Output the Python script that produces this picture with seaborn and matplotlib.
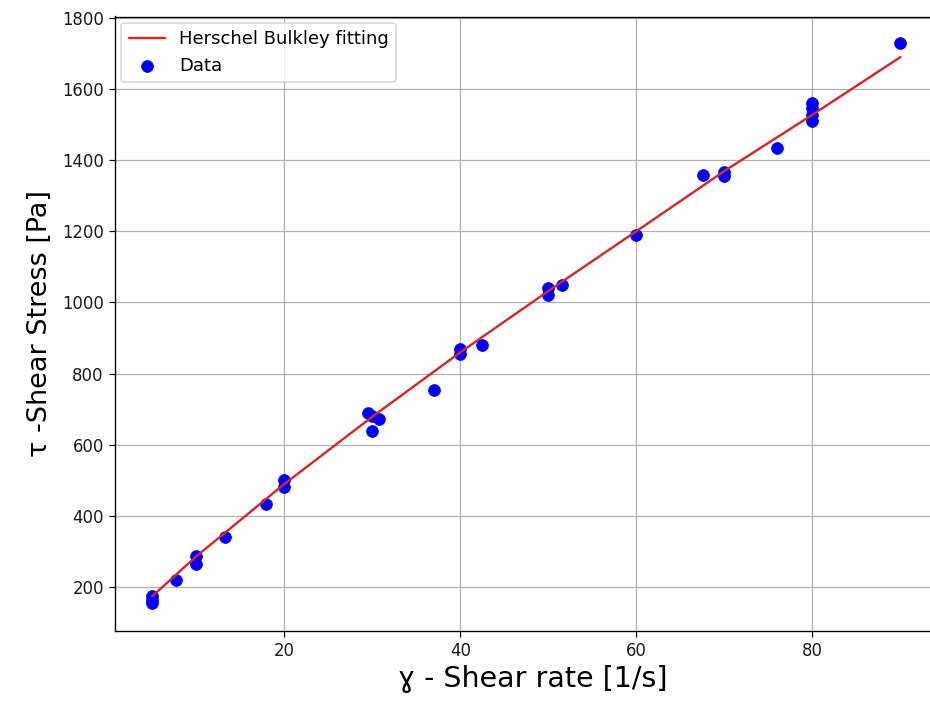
import matplotlib
matplotlib.use("Agg")
import matplotlib.pyplot as plt
import seaborn as sns
import pandas as pd

# Measured data points
shear_rate = [5, 5, 5, 7.7, 10, 10, 13.3, 17.9, 20, 20, 29.5, 30, 30.8, 30,
              37, 40, 40, 42.5, 50, 50, 51.6, 60, 67.6, 70, 70, 76,
              80, 80, 80, 80, 90]
shear_stress = [155, 165, 175, 220, 265, 288, 340, 435, 482, 500, 688, 680, 672, 640,
                754, 855, 870, 880, 1020, 1040, 1050, 1190, 1358, 1355, 1365, 1433,
                1510, 1525, 1545, 1560, 1728]

# Herschel-Bulkley fitted curve
fit_rate = [5, 10, 20, 30, 40, 50, 60, 70, 80, 90]
fit_stress = [175, 287, 490, 679, 860, 1032, 1200, 1369, 1527, 1689]

x_ticks = [20, 40, 60, 80]
y_ticks = [200, 400, 600, 800, 1000, 1200, 1400, 1600, 1800]

sns.set_style("ticks")
plt.rcParams["font.family"] = ["DejaVu Sans"]
plt.rcParams["text.color"] = "black"
plt.rcParams["axes.labelcolor"] = "black"

dpi = 108
fig = plt.figure(figsize=(930 / dpi, 703 / dpi), dpi=dpi)
# axes extend beyond the right edge of the figure (as in the cropped reference)
left_px, right_px = 115, 950
ax = fig.add_axes([left_px / 930, (703 - 631) / 703, (right_px - left_px) / 930, (631 - 16.5) / 703])

df_data = pd.DataFrame({"x": shear_rate, "y": shear_stress})
df_fit = pd.DataFrame({"x": fit_rate, "y": fit_stress})

sns.lineplot(data=df_fit, x="x", y="y", ax=ax, color="#d62728", linewidth=1.6,
             label="Herschel Bulkley fitting", zorder=3)
sns.scatterplot(data=df_data, x="x", y="y", ax=ax, color="#0000ff", s=62,
                edgecolor="#0000ff", linewidth=0.5, label="Data", zorder=2)

ax.set_xlim(0.75, 0.75 + (right_px - left_px) / 8.8)
ax.set_ylim(77, 1803)
ax.set_xticks(x_ticks)
ax.set_yticks(y_ticks)
ax.grid(True, color="#b0b0b0", linewidth=0.8)
for s in ax.spines.values():
    s.set_color("black")
    s.set_linewidth(0.9)
ax.tick_params(colors="black", labelsize=11, length=4, width=0.8, labelcolor="#1a1a1a")

ax.set_xlabel("ɣ - Shear rate [1/s]", fontsize=19, labelpad=3)
ax.set_ylabel("τ -Shear Stress [Pa]", fontsize=18, labelpad=6)

ax.legend(loc="upper left", fontsize=12, frameon=True, fancybox=True, framealpha=0.8,
          edgecolor="#cccccc", borderaxespad=0.35)

fig.savefig("out.png", dpi=dpi)
